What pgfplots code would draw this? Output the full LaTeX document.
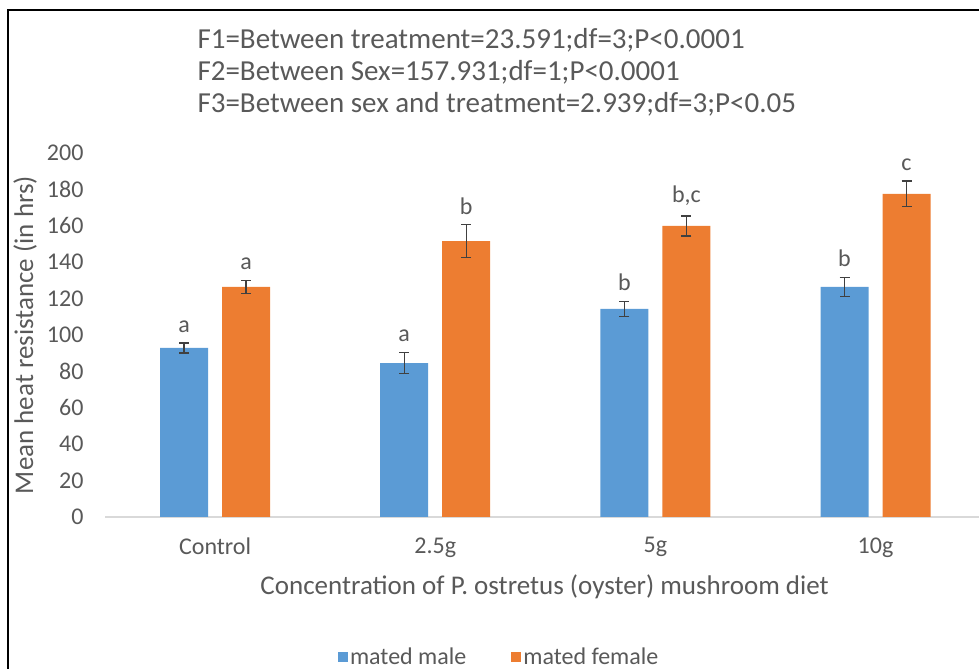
\documentclass[border=0pt]{standalone}
\usepackage{pgfplots}
\pgfplotsset{compat=1.18}
\usepackage{pgfplotstable}
\usepackage{fontspec}
\setmainfont{Carlito}
\definecolor{cblue}{HTML}{5B9BD5}
\definecolor{corange}{HTML}{ED7D31}
\definecolor{tgray}{HTML}{595959}
\definecolor{egray}{HTML}{404040}
\definecolor{agray}{HTML}{D9D9D9}

\pgfplotstableread{
x male merr mlab female ferr flab
0 92.9 2.7 a 126.4 3.6 a
1 84.6 5.8 a 151.6 9.0 b
2 114.3 4.2 b 159.9 5.5 b,c
3 126.4 5.2 b 177.5 7.0 c
}\data

\begin{document}
\begin{tikzpicture}[x=1bp,y=1bp]
\useasboundingbox (0,0) rectangle (979,669);
\draw[black, line width=1.6bp] (8,-5) |- (990,659);
\node[anchor=west, text=tgray, font=\fontsize{29bp}{33bp}\selectfont] at (194,629) {F1=Between treatment=23.591;df=3;P<0.0001};
\node[anchor=west, text=tgray, font=\fontsize{29bp}{33bp}\selectfont] at (194,597) {F2=Between Sex=157.931;df=1;P<0.0001};
\node[anchor=west, text=tgray, font=\fontsize{29bp}{33bp}\selectfont] at (194,565) {F3=Between sex and treatment=2.939;df=3;P<0.05};
\begin{axis}[
  at={(105bp,152bp)}, anchor=south west,
  scale only axis, width=874bp, height=364bp,
  xmin=-0.5, xmax=3.47, ymin=0, ymax=200,
  axis x line*=bottom,
  axis y line*=left,
  y axis line style={draw=none},
  x axis line style={agray, line width=1.2bp, -},
  ytick={0,20,...,200},
  xtick={0,1,2,3},
  xticklabels={Control,2.5g,5g,10g},
  major tick length=0pt,
  tick style={draw=none},
  ticklabel style={text=tgray, font=\fontsize{24bp}{28bp}\selectfont},
  /pgf/number format/assume math mode=true,
  yticklabel style={anchor=east, xshift=-18bp},
  xticklabel style={yshift=-17bp},
  ylabel={Mean heat resistance (in hrs)},
  ylabel style={text=tgray, font=\fontsize{27bp}{31bp}\selectfont, at={(axis description cs:-0.0915,0.5)}, anchor=center},
  xlabel={Concentration of P. ostretus (oyster) mushroom diet},
  xlabel style={text=tgray, font=\fontsize{27bp}{31bp}\selectfont, at={(axis description cs:0.503,0)}, anchor=center, yshift=-70bp},
  ybar, bar width=48bp,
  legend style={draw=none, at={(rel axis cs:0.451,-0.385)}, anchor=center, legend columns=2, text=tgray, font=\fontsize{24bp}{28bp}\selectfont, /tikz/every even column/.append style={column sep=43bp}},
  legend image code/.code={\fill[#1] (0bp,-5bp) rectangle (10bp,5bp);},
  nodes near coords,
  point meta=explicit symbolic,
  every node near coord/.append style={text=tgray, font=\fontsize{24bp}{28bp}\selectfont, anchor=south},
  error bars/y dir=both, error bars/y explicit,
  error bars/error bar style={egray, line width=1.4bp},
  error bars/error mark options={egray, rotate=90, mark size=5bp, line width=1.4bp},
]
\addplot+[fill=cblue, draw=none, bar shift=-31bp,
  visualization depends on={\thisrow{merr} \as \myerr},
  every node near coord/.append style={yshift={1.8268*\myerr+7}}]
  table[x=x, y=male, y error=merr, meta=mlab] {\data};
\addlegendentry{mated male}
\addplot+[fill=corange, draw=none, bar shift=31bp,
  visualization depends on={\thisrow{ferr} \as \myerr},
  every node near coord/.append style={yshift={1.8268*\myerr+7}}]
  table[x=x, y=female, y error=ferr, meta=flab] {\data};
\addlegendentry{mated female}
\end{axis}
\end{tikzpicture}
\end{document}
